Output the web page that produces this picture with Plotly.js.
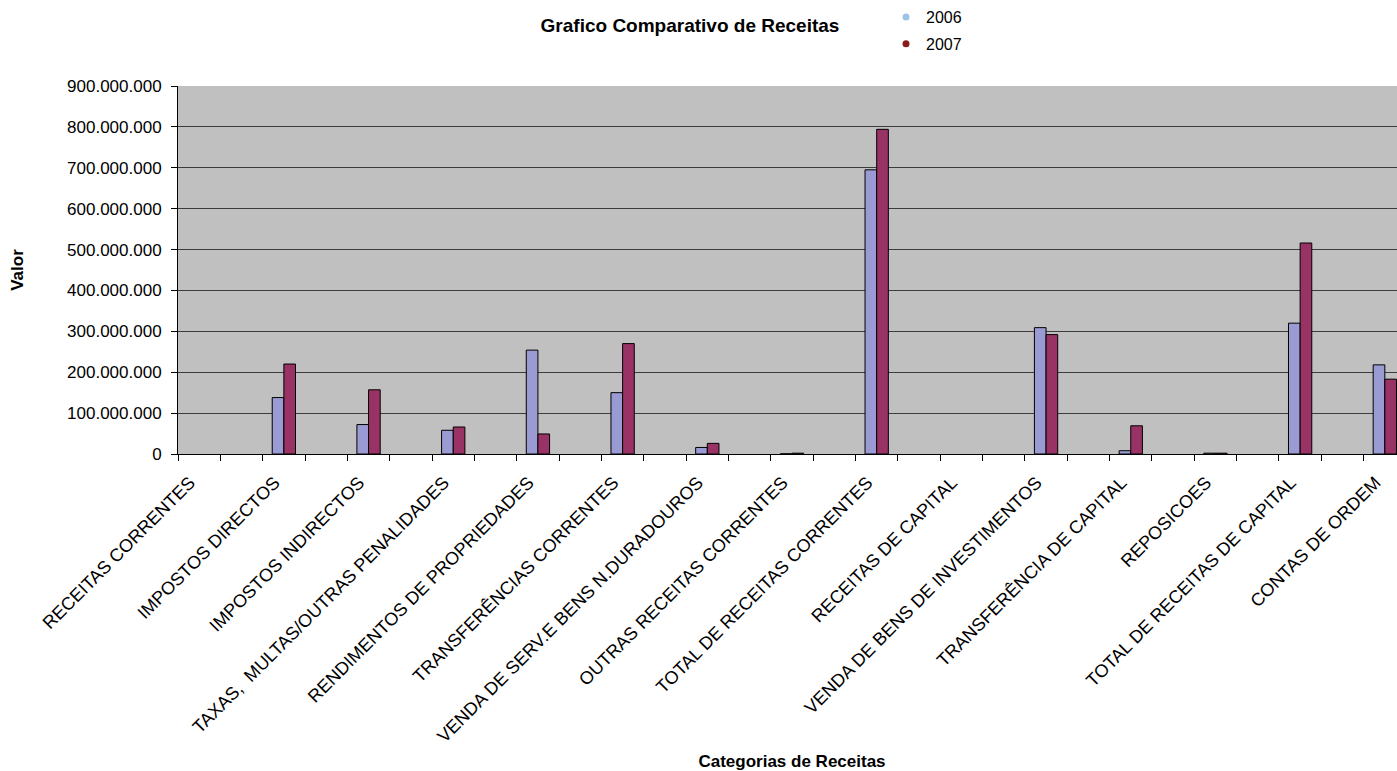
<!DOCTYPE html>
<html>
<head>
<meta charset="utf-8">
<script src="https://cdn.plot.ly/plotly-3.0.1.min.js"></script>
<style>
  html, body { margin: 0; padding: 0; overflow: hidden; background: #ffffff; }
  #chart { width: 1410px; height: 771px; }
</style>
</head>
<body>
<div id="chart"></div>
<script>
// Revenue categories (each is followed by an empty slot on the axis)
var categories = [
  "RECEITAS CORRENTES",
  "IMPOSTOS DIRECTOS",
  "IMPOSTOS INDIRECTOS",
  "TAXAS,  MULTAS/OUTRAS PENALIDADES",
  "RENDIMENTOS DE PROPRIEDADES",
  "TRANSFERÊNCIAS CORRENTES",
  "VENDA DE SERV.E BENS N.DURADOUROS",
  "OUTRAS RECEITAS CORRENTES",
  "TOTAL DE RECEITAS CORRENTES",
  "RECEITAS DE CAPITAL",
  "VENDA DE BENS DE INVESTIMENTOS",
  "TRANSFERÊNCIA DE CAPITAL",
  "REPOSICOES",
  "TOTAL DE RECEITAS DE CAPITAL",
  "CONTAS DE ORDEM"
];

var valores2006 = [null, 138e6, 72e6, 58e6, 254e6, 150e6, 16e6, 0.5e6, 695e6, null, 309e6, 8e6, 2e6, 320e6, 218e6];
var valores2007 = [null, 220e6, 157e6, 66e6, 49e6, 270e6, 26e6, 2e6, 794e6, null, 292e6, 69e6, 2e6, 516e6, 183e6];

var seriesNames = ["2006", "2007"];
var barColors = ["#9b9bd4", "#993366"];
var legendColors = ["#9dc3e6", "#8b1a1a"];

// slot position of each category on the axis (one blank slot between categories)
var slots = categories.map(function (c, i) { return i * 2; });
// rotated labels end a little left of the slot centre
var labelPos = slots.map(function (s) { return s - 0.22; });

var traces = [
  {
    type: "bar", x: slots, y: valores2006, name: seriesNames[0], showlegend: false,
    marker: { color: barColors[0], line: { color: "#000000", width: 1 } },
    hoverinfo: "y"
  },
  {
    type: "bar", x: slots, y: valores2007, name: seriesNames[1], showlegend: false,
    marker: { color: barColors[1], line: { color: "#000000", width: 1 } },
    hoverinfo: "y"
  },
  {
    type: "scatter", mode: "markers", x: [null], y: [null], name: seriesNames[0],
    legendgroup: "a", marker: { symbol: "circle", size: 7, color: legendColors[0] }
  },
  {
    type: "scatter", mode: "markers", x: [null], y: [null], name: seriesNames[1],
    legendgroup: "b", marker: { symbol: "circle", size: 7, color: legendColors[1] }
  }
];

var W = 1410, H = 771;
var font = "Arial, 'Liberation Sans', sans-serif";

var layout = {
  width: W,
  height: H,
  margin: { l: 178, r: 4, t: 86, b: 317, autoexpand: false },
  paper_bgcolor: "#ffffff",
  plot_bgcolor: "#c0c0c0",
  separators: ",.",
  font: { family: font, color: "#000000", size: 16 },
  barmode: "group",
  bargap: 0.725,
  bargroupgap: 0,
  title: {
    text: "<b>Grafico Comparativo de Receitas</b>",
    font: { family: font, size: 19, color: "#000000" },
    xref: "container", x: 690 / W, xanchor: "center",
    yref: "container", y: 1 - 25 / H, yanchor: "middle"
  },
  showlegend: true,
  legend: {
    xref: "container", yref: "container",
    x: 886 / W, xanchor: "left",
    y: 1, yanchor: "top",
    font: { family: font, size: 16, color: "#000000" },
    bgcolor: "rgba(0,0,0,0)",
    tracegroupgap: 3,
    itemclick: false, itemdoubleclick: false
  },
  xaxis: {
    type: "linear",
    range: [-0.5, 28.5],
    tickmode: "array",
    tickvals: labelPos,
    ticktext: categories,
    tickangle: -45,
    ticks: "",
    ticklabelstandoff: 10,
    tickfont: { family: font, size: 18, color: "#000000" },
    showgrid: false,
    zeroline: false,
    showline: true,
    linecolor: "#000000",
    linewidth: 1,
    minor: { tick0: -0.5, dtick: 1, ticks: "outside", ticklen: 6, tickcolor: "#000000", tickwidth: 1, showgrid: false },
    automargin: false,
    fixedrange: true,
    title: {
      text: "<b>Categorias de Receitas</b>",
      font: { family: font, size: 17, color: "#000000" },
      standoff: 24
    }
  },
  yaxis: {
    range: [0, 900e6],
    tickmode: "linear",
    tick0: 0,
    dtick: 100e6,
    tickformat: ",.0f",
    ticks: "outside",
    ticklen: 6,
    tickcolor: "#000000",
    ticklabelstandoff: 6,
    tickfont: { family: font, size: 17, color: "#000000" },
    showgrid: true,
    gridcolor: "#3c3c3c",
    gridwidth: 1,
    zeroline: false,
    showline: true,
    linecolor: "#000000",
    linewidth: 1,
    automargin: false,
    fixedrange: true,
    title: {
      text: "<b>Valor</b>",
      font: { family: font, size: 17, color: "#000000" },
      standoff: 39
    }
  }
};

Plotly.newPlot("chart", traces, layout, { displayModeBar: false, staticPlot: true });
</script>
</body>
</html>
